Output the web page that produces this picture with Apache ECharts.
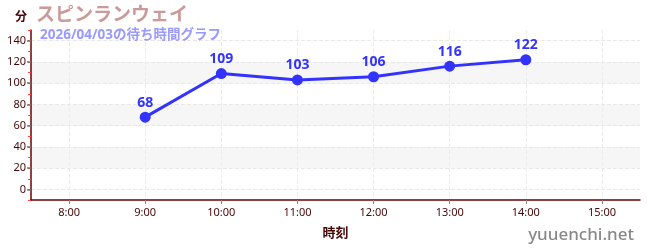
<!DOCTYPE html>
<html><head><meta charset="utf-8">
<script src="https://cdn.jsdelivr.net/npm/echarts@6/dist/echarts.min.js"></script>
<style>html,body{margin:0;padding:0;background:#fff}#c{width:650px;height:250px}</style>
</head><body><div id="c"></div>
<script>
const categories = ['8:00','9:00','10:00','11:00','12:00','13:00','14:00','15:00'];
const waitTimes = [null, 68, 109, 103, 106, 116, 122, null];
const yTickLabels = [0, 20, 40, 60, 80, 100, 120, 140];
const titleText = 'スピンランウェイ';
const subtitleText = '2026/04/03の待ち時間グラフ';
const yName = '分';
const xName = '時刻';
const watermark = 'yuuenchi.net';

// half-step category slots so grid lines / ticks sit at the hour labels
const slots = [''];
const slotValues = [null];
categories.forEach((c, i) => { slots.push(c, ''); slotValues.push(waitTimes[i], null); });
const isHour = i => i % 2 === 1;

const FONT = "'Noto Sans', 'Noto Sans CJK JP', sans-serif";
const MAROON = '#460606';
const BLUE = '#3333ff';
const SHADE = '#f6f6f6';

const chart = echarts.init(document.getElementById('c'));
chart.setOption({
  animation: false,
  textStyle: { fontFamily: FONT },
  title: [{
    text: titleText,
    left: 31, top: 1,
    textStyle: { fontSize: 19, color: '#cc9999', fontWeight: 'bold', fontFamily: FONT }
  }, {
    text: subtitleText,
    left: 35, top: 23,
    textStyle: { fontSize: 13.5, color: '#9999ff', fontWeight: 'bold', fontFamily: FONT }
  }],
  grid: { left: 31, right: 10, top: 30, bottom: 50, containLabel: false },
  xAxis: {
    type: 'category',
    data: slots,
    boundaryGap: false,
    name: xName,
    nameLocation: 'middle',
    nameGap: 27,
    nameTextStyle: { color: MAROON, fontWeight: 'bold', fontSize: 13 },
    axisLine: { onZero: false, lineStyle: { color: '#6b0000', width: 1.5 } },
    axisTick: { interval: isHour, length: 4, lineStyle: { color: '#888' } },
    axisLabel: { interval: isHour, color: MAROON, fontSize: 11, margin: 7 },
    splitLine: { show: true, interval: isHour, lineStyle: { type: 'dashed', color: '#ececec' } }
  },
  yAxis: [{
    type: 'value',
    min: -10, max: 150, interval: 10,
    name: yName,
    nameLocation: 'end',
    nameGap: 6,
    nameTextStyle: { color: MAROON, fontWeight: 'bold', fontSize: 12, align: 'right', padding: [0, 4, 0, 0] },
    axisLine: { show: true, lineStyle: { color: '#6b0000', width: 1.5 } },
    axisTick: { show: true, length: 3, lineStyle: { color: '#ff4444' } },
    axisLabel: {
      color: MAROON, fontSize: 11, margin: 5,
      formatter: v => (yTickLabels.indexOf(v) >= 0 ? String(v) : '')
    },
    splitLine: { show: true, lineStyle: { type: 'dashed', color: ['transparent', '#e8e8e8'] } },
    splitArea: { show: true, areaStyle: { color: ['#fff','#fff','#fff',SHADE,SHADE,'#fff','#fff',SHADE,SHADE,'#fff','#fff',SHADE,SHADE,'#fff','#fff','#fff'] } }
  }, {
    type: 'value',
    position: 'right',
    offset: -609,
    min: -10, max: 150, interval: 20,
    axisLine: { show: false },
    axisTick: { show: false, inside: true },
    axisLabel: { show: false },
    splitLine: { show: false },
    minorTick: { show: true, splitNumber: 2, length: 4, lineStyle: { color: '#777', width: 1.5 } },
    minorSplitLine: { show: false }
  }],
  series: [{
    type: 'line',
    data: slotValues,
    yAxisIndex: 0,
    connectNulls: true,
    symbol: 'circle',
    symbolSize: 11,
    showSymbol: true,
    lineStyle: { color: BLUE, width: 3 },
    itemStyle: { color: BLUE },
    label: { show: true, position: 'top', color: BLUE, fontWeight: 'bold', fontSize: 14, distance: 2, fontFamily: FONT }
  }],
  graphic: [{
    type: 'text',
    right: 16, bottom: 6,
    style: { text: watermark, fill: '#888', fontSize: 17, fontFamily: FONT, fontWeight: 500 }
  }]
});
</script></body></html>
